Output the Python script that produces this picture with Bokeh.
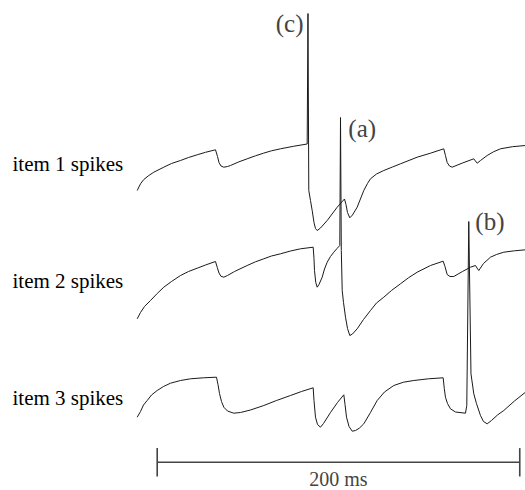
import numpy as np
from bokeh.plotting import figure
from bokeh.models import Range1d, Label
from bokeh.embed import file_html
from bokeh.resources import INLINE

# Membrane-potential traces of three units: time in ms, potential in mV
item1_t = [-11.03, -9.21, -7.39, -4.63, -1.88, 3.64, 7.89, 12.85, 17.27, 22.06, 26.64, 32.16,
           33.27, 34.09, 35.19, 36.74, 38.78, 40.43, 44.85, 49.64, 54.22, 58.63, 63.05, 68.02,
           75.18, 82.74, 83.18, 83.62, 84.56, 85.50, 86.49, 87.32, 88.26, 90.08, 93.78, 99.29,
           103.32, 104.14, 104.97, 106.24, 107.73, 110.32, 113.96, 116.0, 117.65, 120.96, 124.99,
           129.79, 134.2, 143.41, 150.75, 158.09, 159.02, 159.96, 161.23, 162.72, 168.40, 174.64,
           175.57, 176.51, 178.33, 182.03, 185.50, 189.37, 195.99, 203.16]
item1_v = [-68.5, -65.15, -63.0, -61.0, -59.35, -56.85, -55.0, -53.5, -52.0, -50.65, -49.4, -48.15,
           -51.5, -54.5, -56.25, -56.85, -56.5, -56.0, -54.25, -52.65, -51.15, -49.85, -48.65, -47.65,
           -46.4, -45.25, 20.0, -68.5, -73.5, -78.5, -84.5, -87.5, -88.5, -87.25, -83.5, -76.85,
           -72.75, -75.5, -79.5, -82.15, -80.75, -76.85, -68.5, -65.0, -62.65, -60.25, -58.5,
           -56.75, -55.15, -51.85, -49.85, -47.65, -51.0, -54.5, -56.25, -56.85, -54.75, -52.65,
           -53.75, -54.85, -53.5, -51.0, -49.15, -47.65, -46.6, -46.0]

item2_t = [-11.03, -9.21, -7.01, -3.69, 0.0, 3.64, 7.89, 12.85, 17.27, 22.06, 26.64, 32.16,
           33.15, 34.09, 35.19, 36.74, 38.78, 42.64, 49.64, 54.22, 58.80, 63.05, 68.02, 73.53,
           79.05, 86.05, 86.49, 86.77, 87.48, 88.26, 89.25, 91.02, 92.29, 93.78, 95.60, 97.42,
           99.19, 100.73, 101.12, 101.56, 102.06, 102.78, 103.88, 104.99, 106.24, 107.73, 110.32,
           113.80, 117.65, 120.96, 124.99, 129.24, 134.2, 138.61, 143.41, 150.75, 157.76, 158.75,
           159.96, 161.51, 163.60, 168.40, 172.82, 175.58, 176.40, 177.40, 179.99, 183.85, 187.16,
           191.19, 197.09, 203.16]
item2_v = [-74.15, -71.0, -68.0, -65.0, -61.5, -58.35, -55.5, -52.5, -50.5, -48.85, -47.25, -45.5,
           -48.5, -51.25, -52.9, -53.35, -52.5, -50.5, -47.5, -45.65, -44.15, -42.75, -41.65, -40.25,
           -39.15, -38.35, -44.0, -50.0, -56.0, -58.35, -57.0, -53.35, -49.25, -45.85, -43.0, -40.85,
           -39.0, -37.5, 26.5, -40.0, -60.0, -66.0, -73.35, -79.0, -82.5, -81.75, -79.15,
           -74.5, -70.0, -66.25, -63.35, -60.0, -56.65, -53.65, -50.85, -47.5, -45.35, -48.0,
           -52.0, -53.0, -53.0, -50.5, -48.35, -47.5, -48.75, -50.0, -46.5, -43.35, -42.0,
           -40.85, -40.15, -39.65]

item3_t = [-11.03, -9.21, -7.56, -5.52, -3.14, 0.0, 3.48, 7.34, 12.85, 18.37, 25.54, 32.71,
           33.54, 34.37, 35.47, 36.74, 38.78, 42.25, 45.95, 51.46, 58.80, 65.81, 73.53, 79.60,
           86.05, 86.49, 87.32, 88.43, 90.08, 91.74, 95.60, 99.46, 102.95, 103.61, 104.44, 105.82,
           107.59, 109.41, 111.61, 113.96, 117.65, 121.35, 125.38, 130.51, 135.86, 141.54, 149.65,
           157.76, 158.37, 159.02, 160.13, 161.78, 164.54, 170.06, 170.78, 171.88, 173.09, 174.64,
           176.12, 178.33, 179.99, 182.03, 184.40, 187.71, 191.19, 197.09, 203.16]
item3_v = [-64.85, -62.0, -58.75, -56.5, -53.75, -51.5, -49.5, -47.85, -46.5, -45.65, -45.15, -44.85,
           -48.5, -53.0, -57.0, -59.85, -61.75, -62.85, -62.5, -61.25, -59.0, -56.5, -54.0, -52.0,
           -50.15, -56.5, -64.85, -68.5, -69.85, -68.0, -62.5, -57.5, -53.65, -58.5, -64.85, -69.5,
           -71.85, -71.5, -70.25, -68.15, -62.5, -56.5, -52.25, -49.0, -47.35, -46.5, -45.65,
           -45.15, -50.5, -54.85, -58.0, -60.65, -62.25, -62.85, -59.0, 33.0, -43.15, -53.15,
           -58.0, -64.0, -67.0, -68.15, -66.5, -63.75, -61.5, -56.75, -52.35]

trace_labels = ["item 1 spikes", "item 2 spikes", "item 3 spikes"]
spike_tags = ["(c)", "(a)", "(b)"]
scale_bar_ms = 200
scale_bar_text = "200 ms"

# vertical spacing between stacked traces (mV) and the potential the row label sits at
row_step = 58.5
label_level = -55.0

FONT = "Liberation Serif"
X0, X1 = -86.44, 203.17

p = figure(width=525, height=490, output_backend="svg", toolbar_location=None,
           x_range=Range1d(X0, X1), y_range=Range1d(-218.5, 26.5), min_border=0)
p.xaxis.visible = False
p.yaxis.visible = False
p.grid.visible = False
p.outline_line_color = None
p.background_fill_color = "white"
p.border_fill_color = "white"

traces = [(item1_t, item1_v), (item2_t, item2_v), (item3_t, item3_v)]
peaks = []
for i, (t, v) in enumerate(traces):
    off = -row_step * i
    y = np.asarray(v) + off
    p.line(t, y, line_color="#1a1a1a", line_width=1.0, line_join="miter")
    k = int(np.argmax(v))
    peaks.append((t[k], v[k] + off))
    p.add_layout(Label(x=X0 + 6.6, y=label_level + off, text=trace_labels[i],
                       text_font=FONT, text_font_size="21px", text_color="black",
                       text_baseline="middle", text_align="left"))

# spike tags next to each action potential
(tc, yc), (ta, ya), (tb, yb) = peaks
p.add_layout(Label(x=tc - 2.5, y=yc + 2.0, text=spike_tags[0], text_font=FONT,
                   text_font_size="25px", text_baseline="top", text_align="right"))
p.add_layout(Label(x=ta + 4.3, y=ya + 1.5, text=spike_tags[1], text_font=FONT,
                   text_font_size="25px", text_baseline="top", text_align="left"))
p.add_layout(Label(x=tb + 3.6, y=yb + 7.0, text=spike_tags[2], text_font=FONT,
                   text_font_size="25px", text_baseline="top", text_align="left"))

# time scale bar
bar_y = -204.4
tick_h = 7.1
p.line([0, scale_bar_ms], [bar_y, bar_y], line_color="#444444", line_width=1.6)
p.segment(x0=[0, scale_bar_ms], y0=[bar_y - tick_h, bar_y - tick_h],
          x1=[0, scale_bar_ms], y1=[bar_y + tick_h, bar_y + tick_h],
          line_color="#444444", line_width=1.6)
p.add_layout(Label(x=scale_bar_ms / 2, y=-212.6, text=scale_bar_text, text_font=FONT,
                   text_font_size="20px", text_baseline="middle", text_align="center"))

open("out.html", "w").write(file_html(p, INLINE))
